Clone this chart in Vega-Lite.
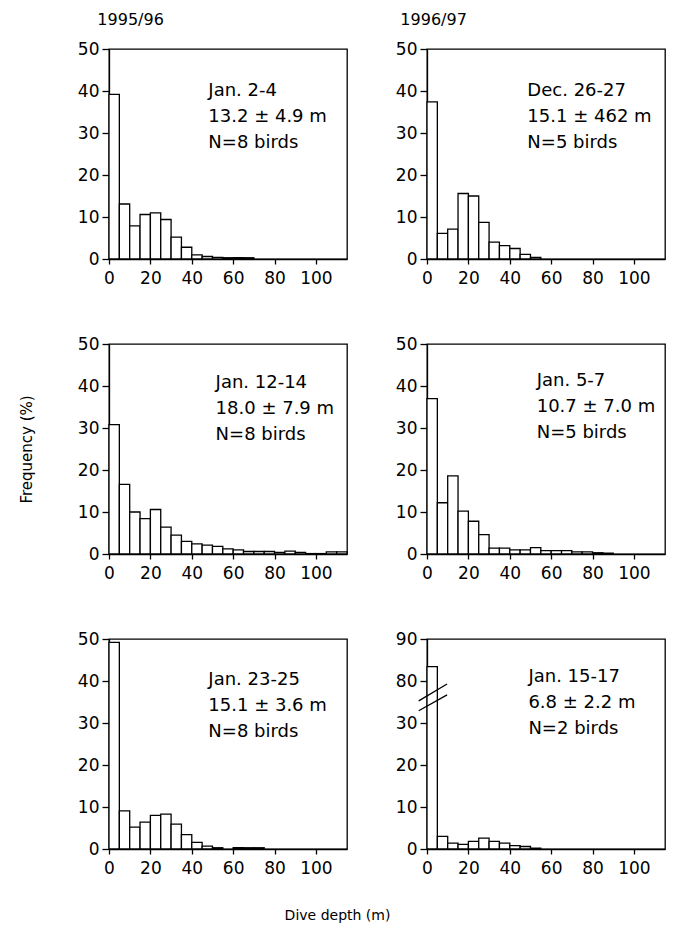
{
  "$schema": "https://vega.github.io/schema/vega-lite/v6.json",
  "background": "white",
  "padding": {"left": 18, "top": 11, "right": 5, "bottom": 5},
  "datasets": {
    "tl": [
      {"lo": 0, "hi": 5, "freq": 39.2}, {"lo": 5, "hi": 10, "freq": 13.1}, {"lo": 10, "hi": 15, "freq": 7.9},
      {"lo": 15, "hi": 20, "freq": 10.6}, {"lo": 20, "hi": 25, "freq": 11.0}, {"lo": 25, "hi": 30, "freq": 9.4},
      {"lo": 30, "hi": 35, "freq": 5.2}, {"lo": 35, "hi": 40, "freq": 2.8}, {"lo": 40, "hi": 45, "freq": 1.0},
      {"lo": 45, "hi": 50, "freq": 0.6}, {"lo": 50, "hi": 55, "freq": 0.4}, {"lo": 55, "hi": 60, "freq": 0.3},
      {"lo": 60, "hi": 65, "freq": 0.3}, {"lo": 65, "hi": 70, "freq": 0.3}
    ],
    "tr": [
      {"lo": 0, "hi": 5, "freq": 37.4}, {"lo": 5, "hi": 10, "freq": 6.1}, {"lo": 10, "hi": 15, "freq": 7.1},
      {"lo": 15, "hi": 20, "freq": 15.6}, {"lo": 20, "hi": 25, "freq": 15.0}, {"lo": 25, "hi": 30, "freq": 8.7},
      {"lo": 30, "hi": 35, "freq": 4.0}, {"lo": 35, "hi": 40, "freq": 3.2}, {"lo": 40, "hi": 45, "freq": 2.5},
      {"lo": 45, "hi": 50, "freq": 1.1}, {"lo": 50, "hi": 55, "freq": 0.4}
    ],
    "ml": [
      {"lo": 0, "hi": 5, "freq": 30.8}, {"lo": 5, "hi": 10, "freq": 16.6}, {"lo": 10, "hi": 15, "freq": 10.0},
      {"lo": 15, "hi": 20, "freq": 8.4}, {"lo": 20, "hi": 25, "freq": 10.6}, {"lo": 25, "hi": 30, "freq": 6.4},
      {"lo": 30, "hi": 35, "freq": 4.5}, {"lo": 35, "hi": 40, "freq": 3.0}, {"lo": 40, "hi": 45, "freq": 2.4},
      {"lo": 45, "hi": 50, "freq": 2.1}, {"lo": 50, "hi": 55, "freq": 1.8}, {"lo": 55, "hi": 60, "freq": 1.2},
      {"lo": 60, "hi": 65, "freq": 1.0}, {"lo": 65, "hi": 70, "freq": 0.6}, {"lo": 70, "hi": 75, "freq": 0.6},
      {"lo": 75, "hi": 80, "freq": 0.6}, {"lo": 80, "hi": 85, "freq": 0.4}, {"lo": 85, "hi": 90, "freq": 0.7},
      {"lo": 90, "hi": 95, "freq": 0.4}, {"lo": 95, "hi": 100, "freq": 0.1}, {"lo": 100, "hi": 105, "freq": 0.1},
      {"lo": 105, "hi": 110, "freq": 0.5}, {"lo": 110, "hi": 115, "freq": 0.5}
    ],
    "mr": [
      {"lo": 0, "hi": 5, "freq": 37.0}, {"lo": 5, "hi": 10, "freq": 12.2}, {"lo": 10, "hi": 15, "freq": 18.6},
      {"lo": 15, "hi": 20, "freq": 10.2}, {"lo": 20, "hi": 25, "freq": 7.8}, {"lo": 25, "hi": 30, "freq": 4.6},
      {"lo": 30, "hi": 35, "freq": 1.4}, {"lo": 35, "hi": 40, "freq": 1.4}, {"lo": 40, "hi": 45, "freq": 1.0},
      {"lo": 45, "hi": 50, "freq": 1.0}, {"lo": 50, "hi": 55, "freq": 1.5}, {"lo": 55, "hi": 60, "freq": 0.8},
      {"lo": 60, "hi": 65, "freq": 0.8}, {"lo": 65, "hi": 70, "freq": 0.8}, {"lo": 70, "hi": 75, "freq": 0.5},
      {"lo": 75, "hi": 80, "freq": 0.5}, {"lo": 80, "hi": 85, "freq": 0.3}, {"lo": 85, "hi": 90, "freq": 0.2}
    ],
    "bl": [
      {"lo": 0, "hi": 5, "freq": 49.2}, {"lo": 5, "hi": 10, "freq": 9.1}, {"lo": 10, "hi": 15, "freq": 5.2},
      {"lo": 15, "hi": 20, "freq": 6.4}, {"lo": 20, "hi": 25, "freq": 8.0}, {"lo": 25, "hi": 30, "freq": 8.3},
      {"lo": 30, "hi": 35, "freq": 5.9}, {"lo": 35, "hi": 40, "freq": 3.4}, {"lo": 40, "hi": 45, "freq": 1.6},
      {"lo": 45, "hi": 50, "freq": 0.7}, {"lo": 50, "hi": 55, "freq": 0.3}, {"lo": 60, "hi": 65, "freq": 0.3},
      {"lo": 65, "hi": 70, "freq": 0.3}, {"lo": 70, "hi": 75, "freq": 0.3}
    ],
    "br": [
      {"lo": 0, "hi": 5, "freq": 83.4}, {"lo": 5, "hi": 10, "freq": 3.0}, {"lo": 10, "hi": 15, "freq": 1.4},
      {"lo": 15, "hi": 20, "freq": 1.1}, {"lo": 20, "hi": 25, "freq": 1.8}, {"lo": 25, "hi": 30, "freq": 2.6},
      {"lo": 30, "hi": 35, "freq": 1.8}, {"lo": 35, "hi": 40, "freq": 1.4}, {"lo": 40, "hi": 45, "freq": 0.8},
      {"lo": 45, "hi": 50, "freq": 0.6}, {"lo": 50, "hi": 55, "freq": 0.2}
    ]
  },
  "config": {
    "font": "DejaVu Sans",
    "view": {"stroke": "black", "strokeWidth": 1.3},
    "axis": {
      "grid": false, "domainColor": "black", "domainWidth": 1.3, "tickColor": "black", "tickWidth": 1.3,
      "labelColor": "black", "labelFont": "DejaVu Sans", "labelFontSize": 17, "labelOverlap": false,
      "titleFont": "DejaVu Sans", "titleFontSize": 15, "titleFontWeight": "normal", "titleColor": "black"
    },
    "axisX": {"tickSize": 5, "labelPadding": 6, "labelFlush": false},
    "axisY": {"tickSize": 7, "labelPadding": 3},
    "title": {"font": "DejaVu Sans", "fontSize": 16, "fontWeight": "normal", "anchor": "start", "color": "black", "offset": 12},
    "text": {"font": "DejaVu Sans", "fontSize": 18, "color": "black"}
  },
  "columns": 2,
  "bounds": "flush",
  "spacing": {"row": 85, "column": 80},
  "concat": [
    {
      "width": 238, "height": 210,
      "title": {"text": "1995/96", "dx": 20},
      "layer": [
        {"data": {"name": "tl"},
         "mark": {"type": "bar", "fill": "white", "stroke": "black", "strokeWidth": 1.3},
         "encoding": {
           "x": {"field": "lo", "type": "quantitative", "scale": {"domain": [0, 115], "nice": false, "zero": false},
                 "axis": {"values": [0, 10, 20, 30, 40, 50, 60, 70, 80, 90, 100, 110], "labelExpr": "datum.value % 20 == 0 && datum.value <= 100 ? datum.label : ''", "title": null}},
           "x2": {"field": "hi"},
           "y": {"field": "freq", "type": "quantitative", "scale": {"domain": [0, 50], "nice": false},
                 "axis": {"values": [0, 10, 20, 30, 40, 50], "title": null}},
           "y2": {"datum": 0}
         }},
        {"data": {"values": [{"label": "Jan. 2-4\n13.2 ± 4.9 m\nN=8 birds"}]},
         "mark": {"type": "text", "align": "left", "baseline": "top", "lineHeight": 26, "lineBreak": "\n"},
         "encoding": {"x": {"datum": 48}, "y": {"datum": 42.1}, "text": {"field": "label"}}}
      ]
    },
    {
      "width": 238, "height": 210,
      "title": {"text": "1996/97", "dx": 5},
      "layer": [
        {"data": {"name": "tr"},
         "mark": {"type": "bar", "fill": "white", "stroke": "black", "strokeWidth": 1.3},
         "encoding": {
           "x": {"field": "lo", "type": "quantitative", "scale": {"domain": [0, 115], "nice": false, "zero": false},
                 "axis": {"values": [0, 10, 20, 30, 40, 50, 60, 70, 80, 90, 100, 110], "labelExpr": "datum.value % 20 == 0 && datum.value <= 100 ? datum.label : ''", "title": null}},
           "x2": {"field": "hi"},
           "y": {"field": "freq", "type": "quantitative", "scale": {"domain": [0, 50], "nice": false},
                 "axis": {"values": [0, 10, 20, 30, 40, 50], "title": null}},
           "y2": {"datum": 0}
         }},
        {"data": {"values": [{"label": "Dec. 26-27\n15.1 ± 462 m\nN=5 birds"}]},
         "mark": {"type": "text", "align": "left", "baseline": "top", "lineHeight": 26, "lineBreak": "\n"},
         "encoding": {"x": {"datum": 48.5}, "y": {"datum": 42.1}, "text": {"field": "label"}}}
      ]
    },
    {
      "width": 238, "height": 210,
      "layer": [
        {"data": {"name": "ml"},
         "mark": {"type": "bar", "fill": "white", "stroke": "black", "strokeWidth": 1.3},
         "encoding": {
           "x": {"field": "lo", "type": "quantitative", "scale": {"domain": [0, 115], "nice": false, "zero": false},
                 "axis": {"values": [0, 10, 20, 30, 40, 50, 60, 70, 80, 90, 100, 110], "labelExpr": "datum.value % 20 == 0 && datum.value <= 100 ? datum.label : ''", "title": null}},
           "x2": {"field": "hi"},
           "y": {"field": "freq", "type": "quantitative", "scale": {"domain": [0, 50], "nice": false},
                 "axis": {"values": [0, 10, 20, 30, 40, 50], "title": "Frequency (%)", "titlePadding": 43}},
           "y2": {"datum": 0}
         }},
        {"data": {"values": [{"label": "Jan. 12-14\n18.0 ± 7.9 m\nN=8 birds"}]},
         "mark": {"type": "text", "align": "left", "baseline": "top", "lineHeight": 26, "lineBreak": "\n"},
         "encoding": {"x": {"datum": 51.5}, "y": {"datum": 42.9}, "text": {"field": "label"}}}
      ]
    },
    {
      "width": 238, "height": 210,
      "layer": [
        {"data": {"name": "mr"},
         "mark": {"type": "bar", "fill": "white", "stroke": "black", "strokeWidth": 1.3},
         "encoding": {
           "x": {"field": "lo", "type": "quantitative", "scale": {"domain": [0, 115], "nice": false, "zero": false},
                 "axis": {"values": [0, 10, 20, 30, 40, 50, 60, 70, 80, 90, 100, 110], "labelExpr": "datum.value % 20 == 0 && datum.value <= 100 ? datum.label : ''", "title": null}},
           "x2": {"field": "hi"},
           "y": {"field": "freq", "type": "quantitative", "scale": {"domain": [0, 50], "nice": false},
                 "axis": {"values": [0, 10, 20, 30, 40, 50], "title": null}},
           "y2": {"datum": 0}
         }},
        {"data": {"values": [{"label": "Jan. 5-7\n10.7 ± 7.0 m\nN=5 birds"}]},
         "mark": {"type": "text", "align": "left", "baseline": "top", "lineHeight": 26, "lineBreak": "\n"},
         "encoding": {"x": {"datum": 53}, "y": {"datum": 43.3}, "text": {"field": "label"}}}
      ]
    },
    {
      "width": 238, "height": 210,
      "layer": [
        {"data": {"name": "bl"},
         "mark": {"type": "bar", "fill": "white", "stroke": "black", "strokeWidth": 1.3},
         "encoding": {
           "x": {"field": "lo", "type": "quantitative", "scale": {"domain": [0, 115], "nice": false, "zero": false},
                 "axis": {"values": [0, 10, 20, 30, 40, 50, 60, 70, 80, 90, 100, 110], "labelExpr": "datum.value % 20 == 0 && datum.value <= 100 ? datum.label : ''", "title": "Dive depth (m)", "titleFontSize": 14, "titleX": 228, "titleAlign": "center", "titlePadding": 32}},
           "x2": {"field": "hi"},
           "y": {"field": "freq", "type": "quantitative", "scale": {"domain": [0, 50], "nice": false},
                 "axis": {"values": [0, 10, 20, 30, 40, 50], "title": null}},
           "y2": {"datum": 0}
         }},
        {"data": {"values": [{"label": "Jan. 23-25\n15.1 ± 3.6 m\nN=8 birds"}]},
         "mark": {"type": "text", "align": "left", "baseline": "top", "lineHeight": 26, "lineBreak": "\n"},
         "encoding": {"x": {"datum": 48}, "y": {"datum": 42.4}, "text": {"field": "label"}}}
      ]
    },
    {
      "width": 238, "height": 210,
      "layer": [
        {"data": {"name": "br"},
         "mark": {"type": "bar", "fill": "white", "stroke": "black", "strokeWidth": 1.3},
         "encoding": {
           "x": {"field": "lo", "type": "quantitative", "scale": {"domain": [0, 115], "nice": false, "zero": false},
                 "axis": {"values": [0, 10, 20, 30, 40, 50, 60, 70, 80, 90, 100, 110], "labelExpr": "datum.value % 20 == 0 && datum.value <= 100 ? datum.label : ''", "title": null}},
           "x2": {"field": "hi"},
           "y": {"field": "freq", "type": "quantitative", "scale": {"domain": [0, 30, 80, 90], "range": [210, 84, 42, 0], "nice": false, "zero": false},
                 "axis": {"values": [0, 10, 20, 30, 80, 90], "title": null}},
           "y2": {"datum": 0}
         }},
        {"data": {"values": [{"line": "upper"}]},
         "mark": {"type": "rule", "stroke": "black", "strokeWidth": 1.3},
         "encoding": {"x": {"datum": -4}, "x2": {"datum": 9.7}, "y": {"datum": 56.4}, "y2": {"datum": 76.5}}},
        {"data": {"values": [{"line": "lower"}]},
         "mark": {"type": "rule", "stroke": "black", "strokeWidth": 1.3},
         "encoding": {"x": {"datum": -4}, "x2": {"datum": 9.7}, "y": {"datum": 44.6}, "y2": {"datum": 63.5}}},
        {"data": {"values": [{"label": "Jan. 15-17\n6.8 ± 2.2 m\nN=2 birds"}]},
         "mark": {"type": "text", "align": "left", "baseline": "top", "lineHeight": 26, "lineBreak": "\n"},
         "encoding": {"x": {"datum": 49}, "y": {"datum": 83.1}, "text": {"field": "label"}}}
      ]
    }
  ]
}
